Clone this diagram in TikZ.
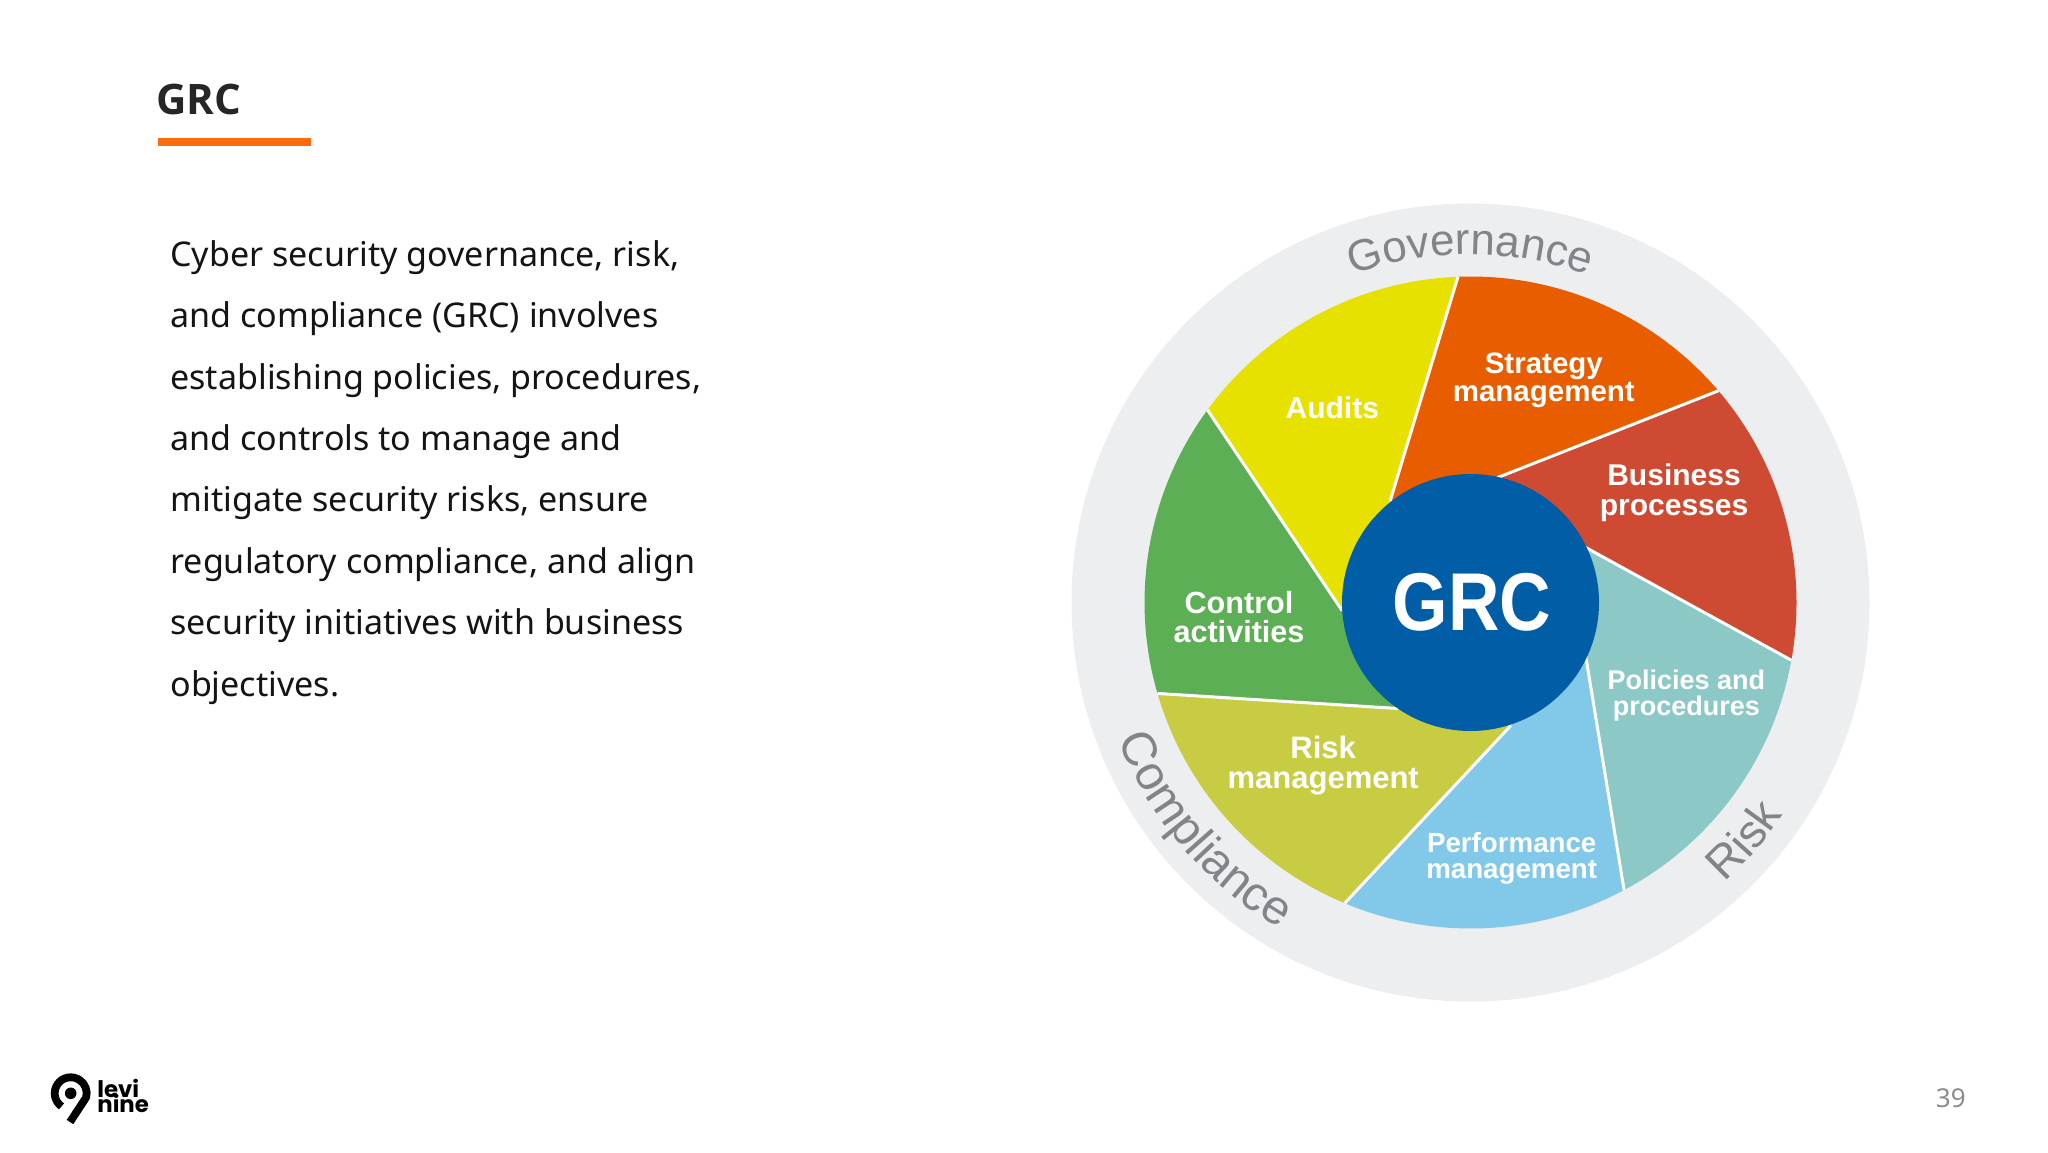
\documentclass[tikz,border=0pt]{standalone}
\usepackage{fontspec}
\usepackage{graphicx}
\usetikzlibrary{decorations.text}
\setmainfont{Noto Sans}
\newfontfamily\lblfont{Liberation Sans}
\newfontfamily\logofont{Poppins}
\newfontfamily\ttlfont{Open Sans}
\definecolor{cAudit}{HTML}{E6E100}
\definecolor{cStrat}{HTML}{E85D00}
\definecolor{cBus}{HTML}{CF4A32}
\definecolor{cPol}{HTML}{8CC8C6}
\definecolor{cPerf}{HTML}{82C8E8}
\definecolor{cRisk}{HTML}{C8CC42}
\definecolor{cCtrl}{HTML}{5CAF55}
\definecolor{cRing}{HTML}{ECEEF0}
\definecolor{cCore}{HTML}{005DA6}
\definecolor{cArc}{HTML}{80858A}
\definecolor{cBar}{HTML}{FF6A0D}
\definecolor{cInk}{HTML}{262626}
\newcommand{\fs}[2]{\fontsize{#1}{#2}\selectfont}
\tikzset{
  x=0.5pt,y=0.5pt,
  lbl/.style={text=white,align=center,inner sep=0pt,font=\lblfont\bfseries},
  sep/.style={draw=white,line width=1.5pt},
  arctext/.style={decorate,decoration={text along path,text align=center}}
}
\begin{document}
\begin{tikzpicture}
\useasboundingbox (0,0) rectangle (2048,1152);
\fill[white] (0,0) rectangle (2048,1152);
% title
\node[anchor=base west,inner sep=0pt,text=cInk,font=\ttlfont\bfseries\fs{21}{25}] (title) at (156,1152-114.5) {GRC};
\fill[cBar] (158,1152-146) rectangle (311,1152-138.5);
% body
\node[anchor=north west,inner sep=0pt,align=left,text=black!92,font=\fs{17.03}{30.7}] (body) at (170,1152-240) {Cyber security governance, risk,\\and compliance (GRC) involves\\establishing policies, procedures,\\and controls to manage and\\mitigate security risks, ensure\\regulatory compliance, and align\\security initiatives with business\\objectives.};
% page number
\node[anchor=base east,inner sep=0pt,text=black!45,font=\fs{13}{15}] (page) at (1966,1152-1107) {39};
% logo
\draw[black,line width=3.9pt,line join=round] (70.7,1152-1093.3)++(235:16) arc[start angle=235,end angle=-15,radius=16] -- (70,1152-1122);
\fill[black] (70.7,1152-1093.3) circle (5.8);
\node[anchor=base west,inner sep=0pt,font=\logofont\bfseries\fs{11.4}{12}] (logo1) at (97,1152-1097) {levi};
\node[anchor=base west,inner sep=0pt,font=\logofont\bfseries\fs{11.4}{12}] (logo2) at (97,1152-1112) {nine};
% wheel
\begin{scope}[shift={(1470.5,1152-602.5)}]
\fill[cRing] (0,0) circle (399);
\coordinate (i1) at (-80.3,101.8);
\coordinate (i2) at (26.8,124.8);
\coordinate (i3) at (115.2,55);
\coordinate (i4) at (115.2,-53.6);
\coordinate (i5) at (40.2,-123.2);
\coordinate (i6) at (-72.3,-106);
\coordinate (i7) at (-128.5,-8);
\coordinate (o1) at (92.2:326);
\coordinate (o2) at (40.5:326);
\coordinate (o3) at (-10.2:326);
\coordinate (o4) at (-61.9:326);
\coordinate (o5) at (-112.7:326);
\coordinate (o6) at (-163.8:326);
\coordinate (o7) at (143.8:326);
\fill[cStrat] (i1) -- (o1) arc[start angle=92.2,end angle=40.5,radius=326] -- (i2) -- cycle;
\fill[cBus] (i2) -- (o2) arc[start angle=40.5,end angle=-10.2,radius=326] -- (i3) -- cycle;
\fill[cPol] (i3) -- (o3) arc[start angle=-10.2,end angle=-61.9,radius=326] -- (i4) -- cycle;
\fill[cPerf] (i4) -- (o4) arc[start angle=-61.9,end angle=-112.7,radius=326] -- (i5) -- cycle;
\fill[cRisk] (i5) -- (o5) arc[start angle=-112.7,end angle=-163.8,radius=326] -- (i6) -- cycle;
\fill[cCtrl] (i6) -- (o6) arc[start angle=-163.8,end angle=-216.2,radius=326] -- (i7) -- cycle;
\fill[cAudit] (i7) -- (o7) arc[start angle=143.8,end angle=92.2,radius=326] -- (i1) -- cycle;
\draw[sep] (i1) -- (o1);
\draw[sep] (i2) -- (o2);
\draw[sep] (i3) -- (o3);
\draw[sep] (i4) -- (o4);
\draw[sep] (i5) -- (o5);
\draw[sep] (i6) -- (o6);
\draw[sep] (i7) -- (o7);
\node[circle,fill=cCore,minimum size=128.5pt,inner sep=0pt,text=white,font=\lblfont\bfseries\fs{41}{45}] (core) at (0,0) {\hspace*{1.5pt}\scalebox{0.87}[1]{GRC}};
% ring words
\path[arctext,decoration={text={|\lblfont\fs{22}{26}\color{cArc}|Governance}}] (115:348) arc[start angle=115,end angle=65,radius=348];
\path[arctext,decoration={text={|\lblfont\fs{24}{26}\color{cArc}|Compliance}}] (195:378) arc[start angle=195,end angle=246,radius=378];
\path[arctext,decoration={text={|\lblfont\fs{23}{26}\color{cArc}|Risk}}] (-60:378) arc[start angle=-60,end angle=-22,radius=378];
\end{scope}
% labels
\node[lbl,font=\lblfont\bfseries\fs{15}{15}] (audits) at (1332.3,1152-408) {Audits};
\node[lbl,font=\lblfont\bfseries\fs{14.75}{14}] (strategy) at (1543.8,1152-380) {Strategy\\management};
\node[lbl,font=\lblfont\bfseries\fs{15}{15}] (business) at (1674,1152-493) {Business\\processes};
\node[lbl,font=\lblfont\bfseries\fs{13.5}{13}] (policies) at (1686.3,1152-696) {Policies and\\procedures};
\node[lbl,font=\lblfont\bfseries\fs{13.85}{13}] (perf) at (1511.7,1152-858.5) {Performance\\management};
\node[lbl,font=\lblfont\bfseries\fs{15.5}{14.75}] (riskm) at (1323.2,1152-765.5) {Risk\\management};
\node[lbl,font=\lblfont\bfseries\fs{15.3}{14.75}] (control) at (1239,1152-617) {Control\\activities};
\end{tikzpicture}
\end{document}
